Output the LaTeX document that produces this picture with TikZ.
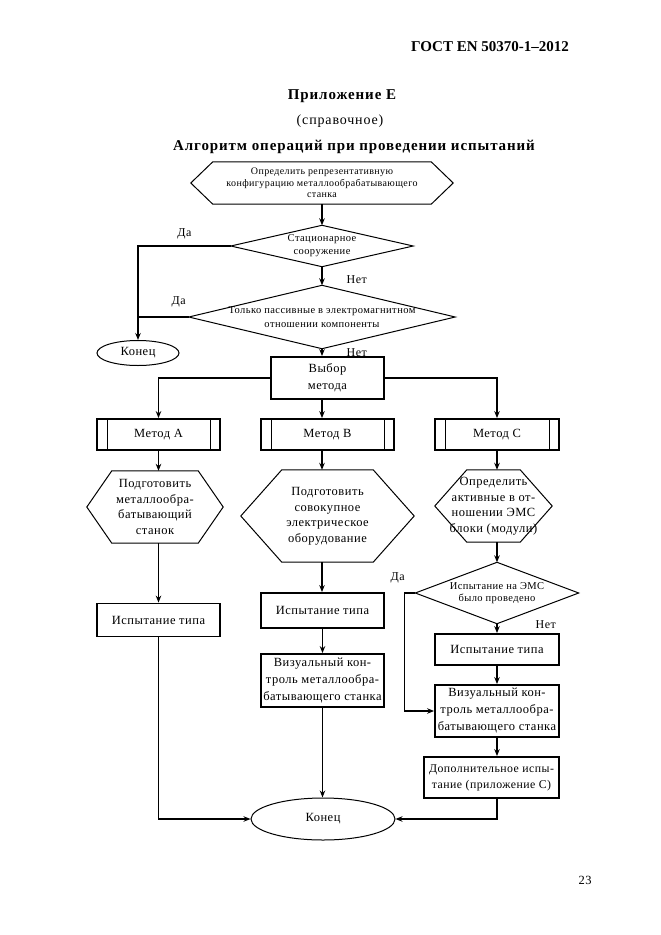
\documentclass[tikz,border=0pt]{standalone}
\usepackage{fontspec}
\setmainfont{Liberation Serif}
\newfontfamily\spaced{Liberation Serif}[LetterSpace=4]
\newfontfamily\headspaced{Liberation Serif}[LetterSpace=6]
\usetikzlibrary{positioning,shapes.geometric,arrows.meta}

% outlines drawn round plain nodes
\newcommand\hexframe[2]{\draw[outline] ([xshift=#2]#1.north west) -- ([xshift=-#2]#1.north east) -- (#1.east) -- ([xshift=-#2]#1.south east) -- ([xshift=#2]#1.south west) -- (#1.west) -- cycle;}
\newcommand\rhombframe[1]{\draw[outline] (#1.north) -- (#1.east) -- (#1.south) -- (#1.west) -- cycle;}

\begin{document}
\begin{tikzpicture}[
    x=1pt, y=-1pt,
    every node/.style={inner sep=0pt, align=center, font=\spaced\fontsize{12.5}{17}\selectfont},
    outline/.style={line width=1pt},
    frame/.style={rectangle, draw, line width=1.8pt},
    method/.style={frame, path picture={
        \draw[line width=1pt] ([xshift=10pt]path picture bounding box.north west) -- ([xshift=10pt]path picture bounding box.south west);
        \draw[line width=1pt] ([xshift=-10pt]path picture bounding box.north east) -- ([xshift=-10pt]path picture bounding box.south east);}},
    term/.style={ellipse, draw, line width=1pt},
    flow/.style={line width=1.3pt, -{Stealth[length=7pt, width=5.5pt]}},
    link/.style={line width=1.3pt},
    answer/.style={font=\spaced\fontsize{12}{14}\selectfont}
]
    \fill[white] (0,0) rectangle (661,935);
    \useasboundingbox (0,0) rectangle (661,935);

    % headings
    \node[font=\fontsize{15}{18}\bfseries] (gost) at (490,47) {ГОСТ EN 50370-1–2012};
    \node[font=\headspaced\fontsize{15}{18}\bfseries] (annex) at (342,96) {Приложение Е};
    \node[font=\headspaced\fontsize{14}{16}\selectfont] (kind) at (340,121) {(справочное)};
    \node[font=\headspaced\fontsize{15}{18}\bfseries] (title) at (354,147) {Алгоритм операций при проведении испытаний};
    \node (page) at (585,880) {23};

    % top of the chart
    \node[minimum width=262pt, minimum height=42pt, font=\spaced\fontsize{10}{11.5}\selectfont] (spec) at (322,183)
        {Определить репрезентативную\\конфигурацию металлообрабатывающего\\станка};
    \node[minimum width=182pt, minimum height=41pt, font=\spaced\fontsize{10.5}{13}\selectfont] (fixed) at (322,246)
        {Стационарное\\сооружение};
    \node[minimum width=266pt, minimum height=63pt, font=\spaced\fontsize{10.5}{14}\selectfont] (passive) at (322,317)
        {Только пассивные в электромагнитном\\отношении компоненты};
    \node[term, minimum width=82pt, minimum height=25pt] (stop) at (138,353) {Конец};
    \node[frame, minimum width=113pt, minimum height=42pt] (choice) at (327.5,378) {Выбор\\метода};
    \hexframe{spec}{22pt}
    \rhombframe{fixed}
    \rhombframe{passive}

    % three methods
    \coordinate (colB) at (322,0);
    \coordinate (colC) at (497,0);
    \node[method, minimum width=123pt, minimum height=31pt] (methA) at (158.5,434.5) {Метод A};
    \node[method, minimum width=133pt, minimum height=31pt] (methB) at (327.5,434.5) {Метод B};
    \node[method, minimum width=124pt, minimum height=31pt] (methC) at (497,434.5) {Метод C};

    \node[minimum width=136pt, minimum height=72pt, font=\spaced\fontsize{12.5}{15.7}\selectfont] (prepA) at (155,507)
        {Подготовить\\металлообра-\\батывающий\\станок};
    \node[minimum width=173pt, minimum height=92pt, font=\spaced\fontsize{12.5}{15.5}\selectfont] (prepB) at (327.5,516)
        {Подготовить\\совокупное\\электрическое\\оборудование};
    \node[minimum width=117pt, minimum height=72pt, font=\spaced\fontsize{12.5}{15.5}\selectfont] (findC) at (493.5,506)
        {Определить\\активные в от-\\ношении ЭМС\\блоки (модули)};
    \hexframe{prepA}{25pt}
    \hexframe{prepB}{41pt}
    \hexframe{findC}{32pt}

    \node[frame, minimum width=123pt, minimum height=33pt] (testA) at (158.5,620) {Испытание типа};
    \node[frame, minimum width=123pt, minimum height=35pt] (testB) at (322.5,610.5) {Испытание типа};
    \node[minimum width=163pt, minimum height=61pt, font=\spaced\fontsize{10.5}{12.5}\selectfont] (done) at (497,593)
        {Испытание на ЭМС\\было проведено};
    \rhombframe{done}
    \node[frame, minimum width=124pt, minimum height=31pt] (testC) at (497,649.5) {Испытание типа};
    \node[frame, minimum width=123pt, minimum height=53pt] (lookB) at (322.5,680.5)
        {Визуальный кон-\\троль металлообра-\\батывающего станка};
    \node[frame, minimum width=124pt, minimum height=52pt] (lookC) at (497,711)
        {Визуальный кон-\\троль металлообра-\\батывающего станка};
    \node[frame, minimum width=135pt, minimum height=41pt, font=\spaced\fontsize{11.8}{16}\selectfont] (extra) at (491.5,777.5)
        {Дополнительное испы-\\тание (приложение С)};
    \node[term, minimum width=144pt, minimum height=42pt] (finish) at (323,819) {Конец};

    % connectors
    \draw[flow] (spec.south) -- (fixed.north);
    \draw[flow] (fixed.west) -| node[answer, pos=.25, above=6pt] {Да} (stop.north);
    \draw[link] (passive.west) -- node[answer, pos=.2, above=9pt] {Да} (passive.west -| stop.north);
    \draw[flow] (fixed.south) -- node[answer, pos=.7, right=24pt] {Нет} (passive.north);
    \draw[flow] (passive.south) -- node[answer, pos=.5, right=24pt] {Нет} (passive.south |- choice.north);
    \draw[flow] (choice.west) -| (methA.north);
    \draw[flow] (choice.east) -| (methC.north);
    \draw[flow] (choice.south -| colB) -- (methB.north -| colB);

    \draw[flow] (methA.south) -- (methA.south |- prepA.north);
    \draw[flow] (methB.south -| colB) -- (prepB.north -| colB);
    \draw[flow] (methC.south) -- (methC.south |- findC.north);

    \draw[flow] (testA.north |- prepA.south) -- (testA.north);
    \draw[flow] (prepB.south -| colB) -- (testB.north -| colB);
    \draw[flow] (findC.south -| colC) -- (done.north);
    \draw[flow] (done.south) -- node[answer, pos=.1, right=38pt] {Нет} (testC.north);
    \draw[flow] (done.west) -- +(-11pt,0) node[answer, above left=9pt and -1pt] {Да} |- (lookC.west);
    \draw[flow] (testC.south) -- (lookC.north);
    \draw[flow] (lookC.south) -- (lookC.south |- extra.north);
    \draw[flow] (extra.south -| colC) |- (finish.east);

    \draw[flow] (testB.south) -- (lookB.north);
    \draw[flow] (lookB.south) -- (lookB.south |- finish.north);
    \draw[flow] (testA.south) |- (finish.west);
\end{tikzpicture}
\end{document}
